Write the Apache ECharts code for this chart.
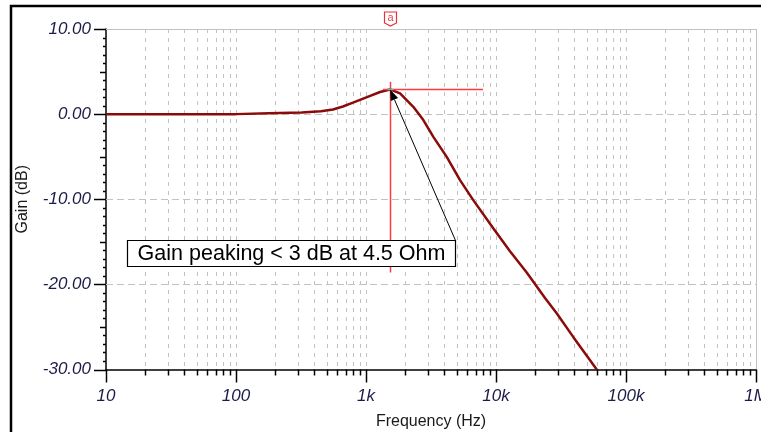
<!DOCTYPE html>
<html>
<head>
<meta charset="utf-8">
<script src="https://cdn.jsdelivr.net/npm/echarts@6/dist/echarts.min.js"></script>
<style>
  html, body { margin: 0; padding: 0; background: #ffffff; }
  #chart { width: 761px; height: 432px; }
</style>
</head>
<body>
<div id="chart"></div>
<script>
// Closed-loop gain vs. frequency (AC analysis trace)
const freqHz = [10, 100, 180, 320, 450, 557, 665, 794, 1018, 1282, 1531,
  1828, 2312, 2761, 3297, 4178, 5287, 6686, 9523, 12810, 17230, 23820, 29290, 39360, 59570];
const gainDb = [0, 0, 0.1, 0.2, 0.35, 0.55, 0.9, 1.35, 2.0, 2.6, 2.9,
  2.44, 0.86, -0.7, -2.67, -5.02, -7.76, -10.1, -13.4, -16.1, -18.6, -21.6, -23.4, -26.2, -30.0];

// Axis ranges and tick labels
const decades = [10, 100, 1000, 10000, 100000, 1000000];
const decadeLabels = ['10', '100', '1k', '10k', '100k', '1M'];
const yMin = -30, yMax = 10, yStep = 10;
const noteText = 'Gain peaking < 3 dB at 4.5 Ohm';
const cursorName = 'a';

// Log-axis tick positions: each decade plus its 2..9 subdivisions
const xTicks = [];
decades.forEach((d, i) => {
  xTicks.push([d, 1]);
  if (i < decades.length - 1) {
    for (let k = 2; k <= 9; k++) xTicks.push([d * k, 0]);
  }
});
// 1 dB minor ticks on the gain axis
const yTicks = [];
for (let v = yMin; v <= yMax; v++) yTicks.push([decades[0], v]);

// Cursor sits on the peak of the trace
const peakIdx = gainDb.indexOf(Math.max.apply(null, gainDb));
const peakF = freqHz[peakIdx], peakG = gainDb[peakIdx];

const gridColor = '#c2c2c2';
const labelColor = '#1c1c48';
const fontFam = '"Liberation Sans", Arial, sans-serif';

function renderXGrid(params, api) {
  const f = api.value(0), major = api.value(1);
  const top = api.coord([f, yMax]), bot = api.coord([f, yMin]);
  const x = Math.round(top[0]) + 0.5;
  const children = [];
  if (f === decades[decades.length - 1]) {
    children.push({ type: 'line', shape: { x1: x, y1: top[1], x2: x, y2: bot[1] },
      style: { stroke: gridColor, lineWidth: 1 } });
  } else if (f !== decades[0]) {
    children.push({ type: 'line', shape: { x1: x, y1: top[1], x2: x, y2: bot[1] },
      style: { stroke: gridColor, lineWidth: 1, lineDash: [4, 5] } });
  }
  children.push({ type: 'line', shape: { x1: x, y1: bot[1], x2: x, y2: bot[1] + (major ? 13 : 6) },
    style: { stroke: '#000', lineWidth: 1.5 } });
  return { type: 'group', children: children };
}

function renderYGrid(params, api) {
  const v = api.value(1);
  const left = api.coord([decades[0], v]);
  const right = api.coord([decades[decades.length - 1], v]);
  const y = Math.round(left[1]) + 0.5;
  const children = [];
  if (v === yMax) {
    children.push({ type: 'line', shape: { x1: left[0], y1: y, x2: right[0], y2: y },
      style: { stroke: gridColor, lineWidth: 1 } });
  } else if (v % yStep === 0 && v !== yMin) {
    children.push({ type: 'line', shape: { x1: left[0], y1: y, x2: right[0], y2: y },
      style: { stroke: gridColor, lineWidth: 1, lineDash: [7, 4] } });
  }
  const len = v % yStep === 0 ? 12 : (v % 5 === 0 ? 6 : 3);
  children.push({ type: 'line', shape: { x1: left[0] - len, y1: y, x2: left[0], y2: y },
    style: { stroke: '#000', lineWidth: 1.5 } });
  return { type: 'group', children: children };
}

function renderCursor(params, api) {
  const p = api.coord([api.value(0), api.value(1)]);
  const vTop = api.coord([peakF, 3.8]), vBot = api.coord([peakF, -18.6]);
  const hL = api.coord([1350, peakG]), hR = api.coord([7940, peakG]);
  const tagTop = api.coord([peakF, yMax])[1] - 17;
  const x = Math.round(p[0]) + 0.5;
  return { type: 'group', children: [
    { type: 'line', shape: { x1: x, y1: vTop[1], x2: x, y2: vBot[1] },
      style: { stroke: '#ff3b3b', lineWidth: 1.5 } },
    { type: 'line', shape: { x1: hL[0], y1: p[1], x2: hR[0], y2: p[1] },
      style: { stroke: '#ff3b3b', lineWidth: 1.5 } },
    { type: 'line', shape: { x1: x - 3, y1: p[1], x2: x + 3, y2: p[1] },
      style: { stroke: '#4cc4c4', lineWidth: 1.5 } },
    { type: 'polygon', shape: { points: [[x - 6, tagTop], [x + 6, tagTop], [x + 6, tagTop + 11],
        [x, tagTop + 14], [x - 6, tagTop + 11]] },
      style: { fill: '#fff', stroke: '#e8303a', lineWidth: 1.2 } },
    { type: 'text', x: x, y: tagTop + 6, style: { text: cursorName, fill: '#e8405a',
        font: '11px ' + fontFam, align: 'center', verticalAlign: 'middle' } }
  ] };
}

function renderNote(params, api) {
  const tip = api.coord([api.value(0), api.value(1)]);
  const a = api.coord([14.5, -14.8]), b = api.coord([4845, -17.9]);
  const bx = Math.round(a[0]) + 0.5, by = Math.round(a[1]) + 0.5;
  const bw = Math.round(b[0] - a[0]), bh = Math.round(b[1] - a[1]);
  const sx = bx + bw, sy = by;
  const ang = Math.atan2(tip[1] - sy, tip[0] - sx);
  const hl = 11, hw = 4;
  const baseX = tip[0] - hl * Math.cos(ang), baseY = tip[1] - hl * Math.sin(ang);
  const nx = -Math.sin(ang) * hw, ny = Math.cos(ang) * hw;
  return { type: 'group', children: [
    { type: 'line', shape: { x1: sx, y1: sy, x2: baseX, y2: baseY },
      style: { stroke: '#000', lineWidth: 1 } },
    { type: 'polygon', shape: { points: [[tip[0], tip[1]], [baseX + nx, baseY + ny], [baseX - nx, baseY - ny]] },
      style: { fill: '#000' } },
    { type: 'rect', shape: { x: bx, y: by, width: bw, height: bh },
      style: { fill: '#fff', stroke: '#000', lineWidth: 1.2 } },
    { type: 'text', x: bx + bw / 2, y: by + bh / 2 + 1, style: { text: noteText, fill: '#000',
        font: '21.5px ' + fontFam, align: 'center', verticalAlign: 'middle' } }
  ] };
}

const chart = echarts.init(document.getElementById('chart'), null, { renderer: 'canvas' });
chart.setOption({
  animation: false,
  backgroundColor: '#ffffff',
  grid: { left: 106, top: 29, right: 5, bottom: 62.5, containLabel: false, outerBoundsMode: 'none' },
  graphic: [{
    type: 'polyline', silent: true, z: 10,
    shape: { points: [[11, 432], [11, 6], [761, 6]] },
    style: { stroke: '#000', lineWidth: 2.5, fill: null }
  }],
  xAxis: {
    type: 'log', logBase: 10, min: decades[0], max: decades[decades.length - 1], splitNumber: 5,
    name: 'Frequency (Hz)', nameLocation: 'middle', nameGap: 44,
    nameTextStyle: { fontFamily: fontFam, fontSize: 16, color: '#1a1a1a' },
    axisLine: { show: true, onZero: false, lineStyle: { color: '#000', width: 1.5 } },
    axisTick: { show: false }, minorTick: { show: false },
    splitLine: { show: false }, minorSplitLine: { show: false },
    axisLabel: {
      margin: 18, fontStyle: 'italic', fontSize: 17, color: labelColor, fontFamily: fontFam,
      hideOverlap: false,
      formatter: v => { const i = decades.indexOf(Math.round(v)); return i >= 0 ? decadeLabels[i] : ''; }
    }
  },
  yAxis: {
    type: 'value', min: yMin, max: yMax, interval: yStep,
    name: 'Gain (dB)', nameLocation: 'middle', nameGap: 75,
    nameTextStyle: { fontFamily: fontFam, fontSize: 16, color: '#1a1a1a' },
    axisLine: { show: true, lineStyle: { color: '#000', width: 1.5 } },
    axisTick: { show: false }, splitLine: { show: false },
    axisLabel: {
      margin: 15, fontStyle: 'italic', fontSize: 17, color: labelColor, fontFamily: fontFam,
      formatter: v => v.toFixed(2)
    }
  },
  series: [
    { type: 'custom', name: 'xgrid', data: xTicks, renderItem: renderXGrid, z: 1, silent: true, clip: false },
    { type: 'custom', name: 'ygrid', data: yTicks, renderItem: renderYGrid, z: 1, silent: true, clip: false },
    {
      type: 'line', name: 'Gain', data: freqHz.map((f, i) => [f, gainDb[i]]),
      showSymbol: false, symbol: 'none', z: 3,
      lineStyle: { color: '#8b0a0a', width: 2.5 }
    },
    { type: 'custom', name: 'cursor', data: [[peakF, peakG]], renderItem: renderCursor, z: 4, silent: true, clip: false },
    { type: 'custom', name: 'note', data: [[peakF, peakG]], renderItem: renderNote, z: 5, silent: true, clip: false }
  ]
});
</script>
</body>
</html>
